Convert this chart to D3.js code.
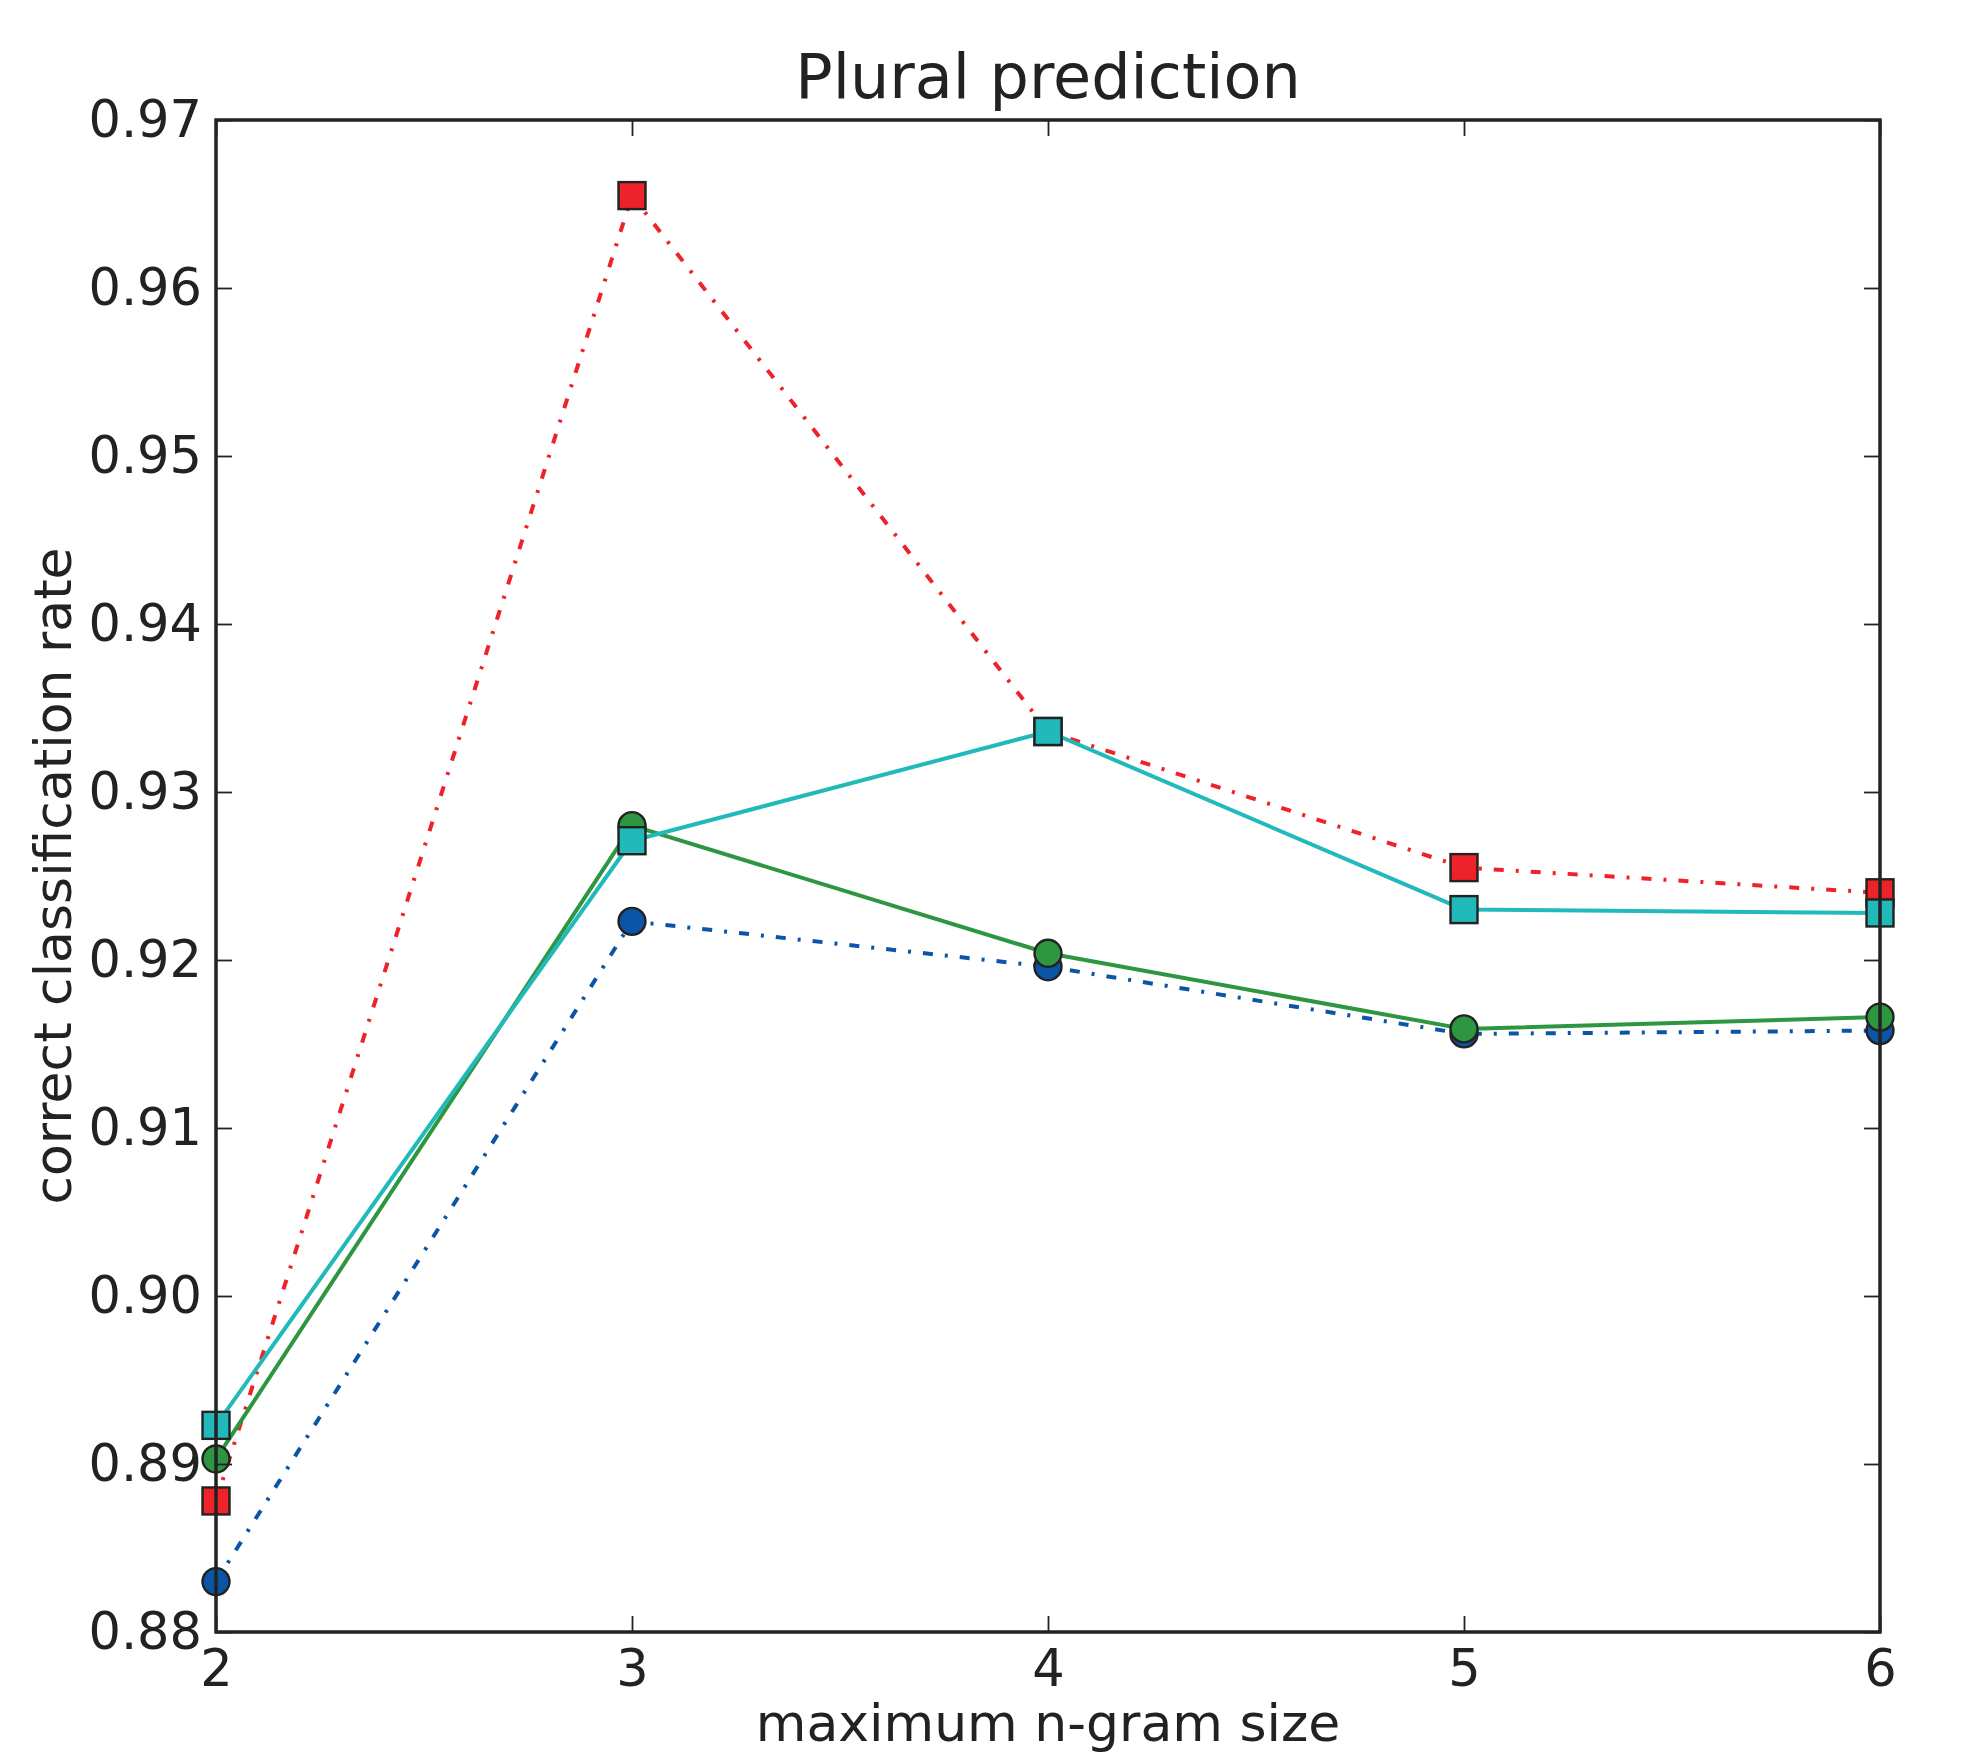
<!DOCTYPE html>
<html>
<head>
<meta charset="utf-8">
<script src="https://cdn.jsdelivr.net/npm/d3@7"></script>
<style>
  body { margin: 0; background: #fff; }
  svg { display: block; }
</style>
</head>
<body>
<div id="chart"></div>
<script>

// chart data
const sizes = [2, 3, 4, 5, 6];
const yTicks = [0.88, 0.89, 0.90, 0.91, 0.92, 0.93, 0.94, 0.95, 0.96, 0.97];
const redVals   = [0.8878, 0.9655, 0.9336, 0.9255, 0.9240];
const blueVals  = [0.8830, 0.9223, 0.9196, 0.9156, 0.9158];
const greenVals = [0.8903, 0.9280, 0.9204, 0.9159, 0.9166];
const cyanVals  = [0.8923, 0.9271, 0.9336, 0.9230, 0.9228];

// draw order matters: later series sit on top
const series = [
  {name: "red",   vals: redVals,   color: "#ee2229", marker: "square", dash: "10,12,3,12"},
  {name: "blue",  vals: blueVals,  color: "#0a55a6", marker: "circle", dash: "10,12,3,12"},
  {name: "green", vals: greenVals, color: "#2e9540", marker: "circle", dash: null},
  {name: "cyan",  vals: cyanVals,  color: "#22b9bb", marker: "square", dash: null}
];

const width = 1972;
const height = 1755;
const margin = {left: 216, right: 92, top: 120, bottom: 123};
const font = "'DejaVu Sans', 'Bitstream Vera Sans', sans-serif";
const ink = "#222222";

const svg = d3.select("#chart")
  .append("svg")
  .attr("width", width)
  .attr("height", height);

const xScale = d3.scaleLinear()
  .domain([2, 6])
  .range([margin.left, width - margin.right]);

const yScale = d3.scaleLinear()
  .domain([0.88, 0.97])
  .range([height - margin.bottom, margin.top]);

// lines + markers, one series at a time
const line = d3.line()
  .x((d, i) => xScale(sizes[i]))
  .y(d => yScale(d));

const markerSize = 27;

series.forEach(s => {
  const g = svg.append("g").attr("class", "series-" + s.name);

  g.append("path")
    .datum(s.vals)
    .attr("d", line)
    .attr("fill", "none")
    .attr("stroke", s.color)
    .attr("stroke-width", 4)
    .attr("stroke-dasharray", s.dash)
    .attr("stroke-linejoin", "round");

  if (s.marker == "circle") {
    g.selectAll("circle")
      .data(s.vals)
      .enter()
      .append("circle")
        .attr("cx", (d, i) => xScale(sizes[i]))
        .attr("cy", d => yScale(d))
        .attr("r", markerSize / 2)
        .attr("fill", s.color)
        .attr("stroke", ink)
        .attr("stroke-width", 2.4);
  } else {
    g.selectAll("rect")
      .data(s.vals)
      .enter()
      .append("rect")
        .attr("x", (d, i) => xScale(sizes[i]) - markerSize / 2)
        .attr("y", d => yScale(d) - markerSize / 2)
        .attr("width", markerSize)
        .attr("height", markerSize)
        .attr("fill", s.color)
        .attr("stroke", ink)
        .attr("stroke-width", 2.4);
  }
});

// axes (ticks point inward, on all four sides)
const tickLen = 16;

const styleAxis = function(g) {
  g.attr("font-size", 51)
   .attr("font-family", font)
   .attr("color", ink);
  g.select(".domain").remove();
  g.selectAll(".tick line").attr("stroke-width", 1.8);
}

svg.append("g")
  .attr("transform", `translate(${margin.left},0)`)
  .call(d3.axisLeft(yScale)
    .tickValues(yTicks)
    .tickFormat(d3.format(".2f"))
    .tickSizeInner(-tickLen)
    .tickSizeOuter(0)
    .tickPadding(14))
  .call(styleAxis);

svg.append("g")
  .attr("transform", `translate(${width - margin.right},0)`)
  .call(d3.axisRight(yScale)
    .tickValues(yTicks)
    .tickFormat("")
    .tickSizeInner(-tickLen)
    .tickSizeOuter(0))
  .call(styleAxis);

svg.append("g")
  .attr("transform", `translate(0,${height - margin.bottom})`)
  .call(d3.axisBottom(xScale)
    .tickValues(sizes)
    .tickFormat(d3.format("d"))
    .tickSizeInner(-tickLen)
    .tickSizeOuter(0)
    .tickPadding(18))
  .call(styleAxis);

svg.append("g")
  .attr("transform", `translate(0,${margin.top})`)
  .call(d3.axisTop(xScale)
    .tickValues(sizes)
    .tickFormat("")
    .tickSizeInner(-tickLen)
    .tickSizeOuter(0))
  .call(styleAxis);

// frame on top of everything
svg.append("rect")
  .attr("x", margin.left)
  .attr("y", margin.top)
  .attr("width", width - margin.left - margin.right)
  .attr("height", height - margin.top - margin.bottom)
  .attr("fill", "none")
  .attr("stroke", ink)
  .attr("stroke-width", 3.5);

// title and axis labels
svg.append("text")
  .attr("x", (margin.left + width - margin.right) / 2)
  .attr("y", 98)
  .attr("text-anchor", "middle")
  .attr("font-family", font)
  .attr("font-size", 62)
  .attr("fill", ink)
  .text("Plural prediction");

svg.append("text")
  .attr("x", (margin.left + width - margin.right) / 2)
  .attr("y", 1741)
  .attr("text-anchor", "middle")
  .attr("font-family", font)
  .attr("font-size", 52)
  .attr("fill", ink)
  .text("maximum n-gram size");

svg.append("text")
  .attr("transform", `translate(71,${(margin.top + height - margin.bottom) / 2}) rotate(-90)`)
  .attr("text-anchor", "middle")
  .attr("font-family", font)
  .attr("font-size", 52)
  .attr("fill", ink)
  .text("correct classification rate");

</script>
</body>
</html>
